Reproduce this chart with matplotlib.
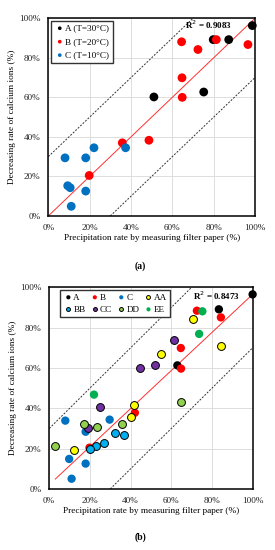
import matplotlib
matplotlib.use("Agg")
import matplotlib.pyplot as plt
from matplotlib.ticker import PercentFormatter
import numpy as np

plt.rcParams['font.family'] = ['Liberation Serif', 'DejaVu Serif']

# ---------------- data (a) ----------------
a_A_x = [98.7, 87.3, 79.8, 51.1, 75.2]
a_A_y = [96.3, 89.2, 89.2, 60.2, 62.7]
a_B_x = [81.3, 96.6, 64.5, 72.4, 64.7, 64.8, 48.7, 35.8, 19.8]
a_B_y = [89.2, 86.7, 88.1, 84.2, 69.9, 60.0, 38.3, 37.0, 20.5]
a_C_x = [8.1, 18.1, 22.1, 37.4, 9.4, 10.6, 18.1, 11.1]
a_C_y = [29.4, 29.4, 34.5, 34.5, 15.3, 14.3, 12.6, 4.9]
a_labels = ["A (T=30°C)", "B (T=20°C)", "C (T=10°C)"]
a_r2 = "R$^2$ = 0.9083"

# ---------------- data (b) ----------------
b_A_x = [100.0, 83.4, 63.0]
b_A_y = [96.5, 89.1, 61.3]
b_B_x = [72.6, 84.4, 64.7, 64.8, 42.1, 19.8]
b_B_y = [88.4, 85.1, 69.9, 59.7, 37.8, 20.5]
b_C_x = [7.9, 29.7, 17.9, 9.8, 17.9, 11.0]
b_C_y = [33.9, 34.4, 28.4, 14.9, 12.6, 5.1]
b_AA_x = [70.7, 55.0, 84.7, 41.8, 40.0, 12.2]
b_AA_y = [84.4, 66.7, 71.0, 41.5, 35.5, 19.5]
b_BB_x = [32.5, 36.9, 27.0, 23.0, 20.1]
b_BB_y = [27.6, 27.0, 22.7, 21.1, 19.6]
b_CC_x = [61.5, 51.8, 44.4, 24.9, 18.9]
b_CC_y = [74.1, 61.5, 60.0, 40.8, 30.0]
b_DD_x = [65.0, 16.9, 23.6, 35.9, 3.0]
b_DD_y = [43.3, 32.1, 30.6, 32.1, 21.1]
b_EE_x = [75.3, 73.7, 22.0]
b_EE_y = [88.1, 76.9, 46.8]
b_labels = ["A", "B", "C", "AA", "BB", "CC", "DD", "EE"]
b_r2 = "R$^2$ = 0.8473"
b_fit = (0.944, 2.1)   # slope, intercept

xticks = [0, 20, 40, 60, 80, 100]
xlabel = "Precipitation rate by measuring filter paper (%)"
ylabel = "Decreasing rate of calcium ions (%)"

col = {"A": "#000000", "B": "#FF0000", "C": "#0070C0", "AA": "#FFFF00",
       "BB": "#00B0F0", "CC": "#7030A0", "DD": "#92D050", "EE": "#00B050"}
edged = {"AA", "BB", "CC", "DD"}

fig = plt.figure(figsize=(2.75, 5.5), dpi=100)
ax1 = fig.add_axes([0.1756, 0.6073, 0.7516, 0.3595])
ax2 = fig.add_axes([0.179, 0.1109, 0.7396, 0.3667])

def style(ax):
    ax.set_xlim(0, 100)
    ax.set_ylim(0, 100)
    ax.set_xticks(xticks)
    ax.set_yticks(xticks)
    ax.xaxis.set_major_formatter(PercentFormatter(decimals=0))
    ax.yaxis.set_major_formatter(PercentFormatter(decimals=0))
    ax.tick_params(length=0, labelsize=6.6, pad=5.5, labelcolor="#222222")
    ax.grid(True, color="#DDDDDD", lw=0.7)
    ax.set_axisbelow(True)
    for s in ax.spines.values():
        s.set_linewidth(1.1)
        s.set_color("black")
    ax.set_xlabel(xlabel, fontsize=6.7, labelpad=1.5)
    ax.set_ylabel(ylabel, fontsize=6.7, labelpad=2)

def guides(ax):
    xs = np.array([0, 70])
    ax.plot(xs, xs + 30, ls=(0, (2, 1.5)), color="#333333", lw=0.7, zorder=2)
    xs = np.array([30, 100])
    ax.plot(xs, xs - 30, ls=(0, (2, 1.5)), color="#333333", lw=0.7, zorder=2)

# ----- (a) -----
style(ax1)
guides(ax1)
ax1.plot([0, 100], [0, 100], color="#FF3030", lw=0.7, zorder=2)
for key, xs, ys, lab in [("A", a_A_x, a_A_y, a_labels[0]),
                         ("B", a_B_x, a_B_y, a_labels[1]),
                         ("C", a_C_x, a_C_y, a_labels[2])]:
    ax1.scatter(xs, ys, s=40, color=col[key], edgecolors="none", label=lab, zorder=3, clip_on=False)
leg = ax1.legend(loc="upper left", fontsize=6.6, markerscale=0.42, handletextpad=0.0,
                 borderaxespad=0.25, labelspacing=0.55, borderpad=0.4, handlelength=1.2,
                 fancybox=False, framealpha=1, edgecolor="#333333")
leg.get_frame().set_linewidth(1.0)
ax1.text(89, 96.5, a_r2, fontsize=6.5, fontweight="bold", ha="right", va="center")
fig.text(0.51, 0.516, "(a)", fontsize=7, fontweight="bold", ha="center", va="center")

# ----- (b) -----
style(ax2)
guides(ax2)
xf = np.array([min(b_DD_x), 100])
ax2.plot(xf, b_fit[0] * xf + b_fit[1], color="#FF3030", lw=0.7, zorder=2)
series_b = [("A", b_A_x, b_A_y), ("B", b_B_x, b_B_y), ("C", b_C_x, b_C_y),
            ("AA", b_AA_x, b_AA_y), ("BB", b_BB_x, b_BB_y), ("CC", b_CC_x, b_CC_y),
            ("DD", b_DD_x, b_DD_y), ("EE", b_EE_x, b_EE_y)]
handles = {}
for key, xs, ys in series_b:
    if key in edged:
        h = ax2.scatter(xs, ys, s=32, color=col[key], edgecolors="black", linewidths=0.7,
                        label=key, zorder=3, clip_on=False)
    else:
        h = ax2.scatter(xs, ys, s=36, color=col[key], edgecolors="none", label=key,
                        zorder=3, clip_on=False)
    handles[key] = h
# legend filled row-wise: reorder for column-major layout
order = [b_labels[i] for i in (0, 4, 1, 5, 2, 6, 3, 7)]
leg2 = ax2.legend([handles[k] for k in order], order, loc="upper left", ncol=4,
                  fontsize=6.6, markerscale=0.5, handletextpad=0.0,
                  columnspacing=0.45, borderaxespad=0.3, labelspacing=0.4, borderpad=0.35,
                  handlelength=1.1, fancybox=False, framealpha=1, edgecolor="#333333",
                  bbox_to_anchor=(0.04, 1.0))
leg2.get_frame().set_linewidth(1.0)
ax2.text(93.5, 96, b_r2, fontsize=6.5, fontweight="bold", ha="right", va="center")
fig.text(0.51, 0.024, "(b)", fontsize=7, fontweight="bold", ha="center", va="center")

fig.savefig("out.png", dpi=100)
